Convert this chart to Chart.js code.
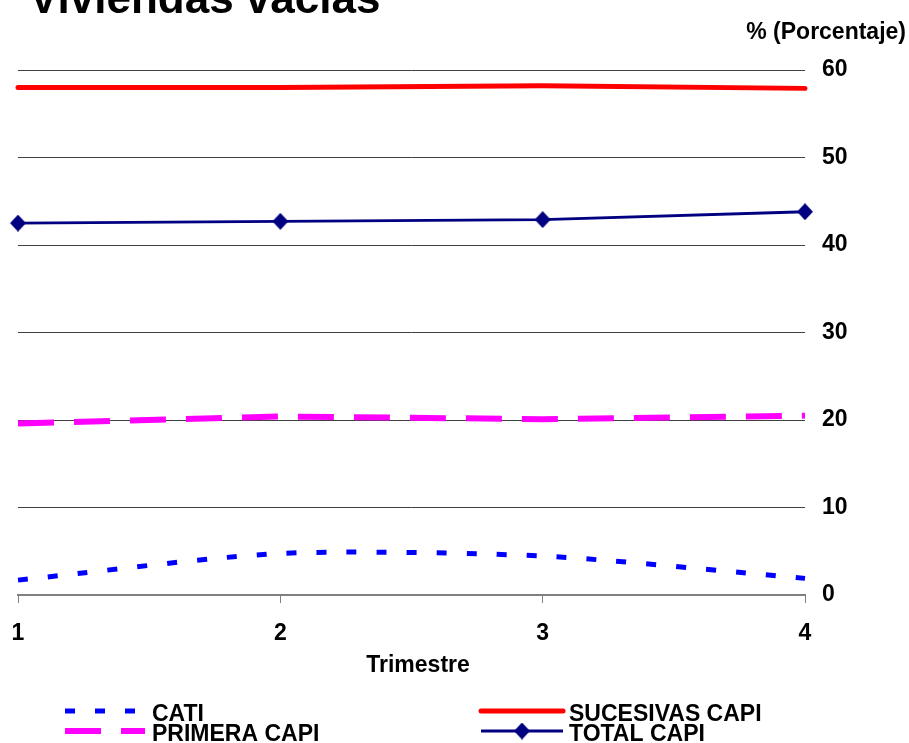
<!DOCTYPE html>
<html><head><meta charset="utf-8">
<script src="https://cdn.jsdelivr.net/npm/chart.js@4.4.0/dist/chart.umd.min.js"></script>
<style>html,body{margin:0;padding:0;background:#fff;overflow:hidden}#wrap{position:relative;width:909px;height:743px}</style>
</head><body><div id="wrap"><canvas id="c" width="909" height="743"></canvas></div>
<script>
const chartTitle = "Viviendas vacías";
const yAxisTitle = "% (Porcentaje)";
const xAxisTitle = "Trimestre";
const categories = ["1", "2", "3", "4"];
const yTicks = [0, 10, 20, 30, 40, 50, 60];
const seriesNames = ["CATI", "PRIMERA CAPI", "SUCESIVAS CAPI", "TOTAL CAPI"];
const cati = [1.7, 4.75, 4.45, 1.9];
const primeraCapi = [19.6, 20.4, 20.1, 20.5];
const sucesivasCapi = [58.0, 58.0, 58.2, 57.9];
const totalCapi = [42.5, 42.7, 42.9, 43.8];

const FONT = '"Liberation Sans", Arial, sans-serif';

function diamond(w, h, color) {
  const c = document.createElement('canvas');
  c.width = w; c.height = h;
  const g = c.getContext('2d');
  g.fillStyle = color;
  g.beginPath();
  g.moveTo(w / 2, 0); g.lineTo(w, h / 2); g.lineTo(w / 2, h); g.lineTo(0, h / 2);
  g.closePath(); g.fill();
  return c;
}
const diamondImg = diamond(16, 17, '#000080');

const decor = {
  id: 'decor',
  afterDraw(chart) {
    const ctx = chart.ctx;
    ctx.save();
    ctx.fillStyle = '#000';
    ctx.textBaseline = 'alphabetic';
    ctx.font = 'bold 44px ' + FONT;
    ctx.textAlign = 'left';
    ctx.fillText(chartTitle, 29, 13);
    ctx.font = 'bold 23px ' + FONT;
    ctx.textAlign = 'right';
    ctx.fillText(yAxisTitle, 906, 39);
    ctx.textAlign = 'center';
    ctx.fillText(xAxisTitle, 418, 672);
    const ds = chart.data.datasets;
    const items = [
      { i: 0, x0: 65, x1: 145, y: 711, tx: 152, ty: 721 },
      { i: 1, x0: 65, x1: 145, y: 731, tx: 152, ty: 741 },
      { i: 2, x0: 481, x1: 563, y: 711, tx: 569, ty: 721 },
      { i: 3, x0: 481, x1: 563, y: 731, tx: 569, ty: 741 }
    ];
    items.forEach(it => {
      const d = ds[it.i];
      ctx.save();
      ctx.strokeStyle = d.borderColor;
      ctx.lineWidth = d.borderWidth;
      ctx.lineCap = d.borderCapStyle || 'butt';
      ctx.setLineDash(d.borderDash || []);
      ctx.beginPath();
      ctx.moveTo(it.x0, it.y);
      ctx.lineTo(it.x1, it.y);
      ctx.stroke();
      ctx.restore();
      if (d.pointStyle && typeof d.pointStyle === 'object') {
        ctx.drawImage(d.pointStyle, (it.x0 + it.x1) / 2 - d.pointStyle.width / 2, it.y - d.pointStyle.height / 2);
      }
      ctx.font = 'bold 23px ' + FONT;
      ctx.textAlign = 'left';
      ctx.fillStyle = '#000';
      ctx.fillText(d.label, it.tx, it.ty);
    });
    ctx.restore();
  }
};

new Chart(document.getElementById('c'), {
  type: 'line',
  data: {
    labels: categories,
    datasets: [
      { label: seriesNames[0], data: cati, borderColor: '#0000FF', borderWidth: 5, borderDash: [10, 20], borderCapStyle: 'butt', tension: 0.25, pointRadius: 0, fill: false, clip: false },
      { label: seriesNames[1], data: primeraCapi, borderColor: '#FF00FF', borderWidth: 6, borderDash: [36, 20], borderCapStyle: 'butt', tension: 0, pointRadius: 0, fill: false, clip: false },
      { label: seriesNames[2], data: sucesivasCapi, borderColor: '#FF0000', borderWidth: 5, borderCapStyle: 'round', tension: 0, pointRadius: 0, fill: false, clip: false },
      { label: seriesNames[3], data: totalCapi, borderColor: '#000080', borderWidth: 3, tension: 0, pointStyle: diamondImg, pointRadius: 8, fill: false, clip: false }
    ]
  },
  options: {
    responsive: false,
    animation: false,
    devicePixelRatio: 1,
    layout: { padding: { left: 18, top: 70, right: 0, bottom: 0 } },
    plugins: { legend: { display: false }, title: { display: false }, tooltip: { enabled: false } },
    scales: {
      x: {
        type: 'category',
        offset: false,
        grid: { drawOnChartArea: false, drawTicks: true, tickLength: 8, color: '#808080', lineWidth: 1 },
        border: { display: true, color: '#808080', width: 2 },
        ticks: { color: '#000', font: { family: FONT, size: 23, weight: 'bold' }, padding: 17, maxRotation: 0, autoSkip: false },
        afterFit(s) { s.height = 148; s.paddingLeft = 0; s.paddingRight = 0; }
      },
      y: {
        position: 'right',
        min: 0, max: 60,
        afterBuildTicks(s) { s.ticks = yTicks.map(v => ({ value: v })); },
        grid: { color: '#404040', lineWidth: 1, drawTicks: false },
        border: { display: false },
        ticks: { color: '#000', font: { family: FONT, size: 23, weight: 'bold' }, padding: 17 },
        afterFit(s) { s.width = 104; s.paddingTop = 0; s.paddingBottom = 0; }
      }
    }
  },
  plugins: [decor]
});
</script>
</body></html>
